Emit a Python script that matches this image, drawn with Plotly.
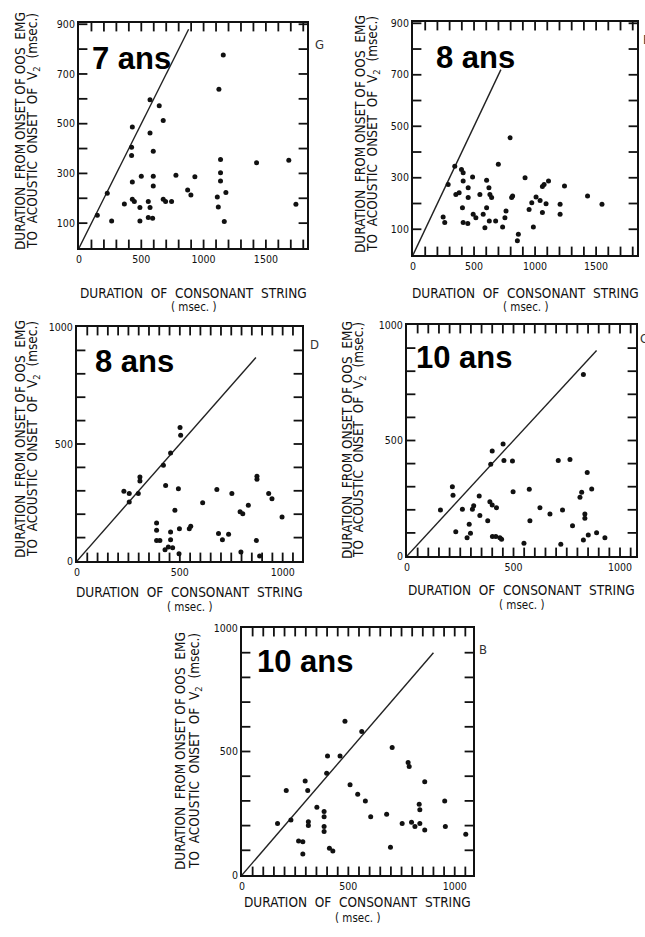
import plotly.graph_objects as go

W, H = 645, 937

# ---------------- data ----------------
p1_x = [147, 227, 262, 364, 428, 422, 422, 428, 428, 444, 500, 489, 489, 570, 570, 556, 570, 556, 591, 596, 596, 596,
        644, 676, 676, 695, 743, 778, 872, 898, 930, 1110, 1118, 1123, 1158, 1136, 1136, 1136, 1166, 1179, 1425, 1684, 1741]
p1_y = [132, 220, 109, 177, 487, 405, 372, 265, 196, 187, 289, 163, 109, 596, 463, 187, 163, 123, 120, 389, 289, 249,
        572, 513, 196, 187, 187, 293, 233, 213, 287, 205, 165, 639, 776, 356, 303, 269, 107, 223, 343, 353, 176]

p2_x = [247, 260, 288, 342, 351, 378, 397, 411, 411, 452, 452, 405, 411, 449, 488, 493, 515, 548, 575, 603, 603, 622,
        630, 644, 589, 625, 677, 699, 734, 753, 762, 795, 808, 816, 855, 863, 918, 951, 973, 986, 1008, 1041, 1060,
        1060, 1074, 1090, 1110, 1205, 1205, 1241, 1430, 1548]
p2_y = [148, 126, 274, 345, 235, 242, 332, 319, 287, 261, 223, 184, 126, 122, 303, 158, 145, 235, 158, 290, 184, 261,
        235, 223, 106, 132, 132, 352, 109, 145, 171, 455, 223, 229, 55, 81, 300, 177, 203, 109, 225, 212, 165,
        266, 274, 199, 287, 197, 158, 268, 229, 197]

p3_x = [228, 254, 254, 298, 306, 306, 387, 387, 387, 403, 420, 431, 428, 444, 455, 455, 455, 465, 476, 493, 496, 501,
        504, 498, 546, 553, 611, 680, 688, 707, 737, 753, 793, 797, 806, 833, 875, 875, 872, 888, 932, 948, 997]
p3_y = [298, 288, 252, 288, 359, 342, 162, 131, 88, 88, 409, 323, 48, 60, 462, 124, 91, 57, 217, 309, 31, 570,
        537, 138, 138, 148, 249, 306, 117, 91, 114, 288, 211, 38, 202, 238, 362, 349, 88, 21, 288, 266, 188]

p4_x = [157, 213, 216, 229, 260, 282, 292, 298, 307, 313, 339, 342, 379, 389, 393, 400, 400, 401, 417, 420, 436, 444,
        451, 455, 495, 498, 549, 574, 577, 624, 671, 710, 722, 730, 765, 777, 812, 820, 828, 828, 835, 835, 846,
        851, 867, 890, 929]
p4_y = [199, 300, 263, 105, 202, 79, 137, 98, 202, 218, 260, 175, 153, 235, 397, 455, 221, 84, 84, 209, 79, 72,
        485, 413, 411, 278, 55, 289, 153, 209, 182, 413, 51, 199, 418, 131, 254, 276, 786, 69, 182, 163, 361,
        91, 290, 101, 79]

p5_x = [167, 208, 230, 266, 286, 286, 297, 309, 312, 312, 352, 386, 386, 386, 386, 402, 398, 411, 427, 461, 484, 508,
        544, 563, 580, 605, 680, 698, 706, 753, 781, 786, 797, 813, 833, 836, 836, 859, 859, 953, 956, 1052]
p5_y = [209, 342, 223, 138, 135, 85, 381, 342, 216, 200, 274, 257, 236, 196, 176, 482, 412, 108, 97, 482, 622, 365,
        327, 581, 300, 236, 246, 112, 516, 209, 455, 439, 214, 196, 286, 264, 209, 182, 378, 300, 196, 165]

diag_end = [880, 720, 870, 890, 900]
age_labels = ["7 ans", "8 ans", "8 ans", "10 ans", "10 ans"]
panel_letters = ["G", "E", "D", "C", "B"]
x_ranges = [[0, 1830], [0, 1835], [0, 1094], [0, 1075], [0, 1086]]
y_ranges = [[0, 905], [0, 905], [0, 1000], [0, 1000], [0, 1000]]

Y_TITLE_1 = "DURATION  FROM ONSET OF OOS  EMG"
Y_TITLE_2 = "TO  ACOUSTIC  ONSET  OF  V<sub>2</sub>  (msec.)"
X_TITLE = "DURATION  OF  CONSONANT  STRING"
X_UNIT = "( msec. )"

# ---------------- layout geometry (pixels) ----------------
frames = [(79, 307, 23, 248), (413, 637, 22, 255), (77, 302, 327, 561), (407, 636, 325, 556), (242, 473, 628, 875)]
label_pos = [(90, 58), (434, 57), (93, 362), (414, 357), (255, 661)]
letter_pos = [(313, 45), (641, 40), (308, 344), (638, 339), (477, 649)]
ytitle_x = [(20, 33), (360, 373), (20, 33), (347, 359), (180, 195)]
ytitle_c = [131, 134, 439, 440, 751]
xtitle_y = [293, 293, 592, 590, 902]
xunit_y = [307, 307, 607, 605, 918]

FONT = "DejaVu Sans Condensed, Liberation Sans Narrow, Arial Narrow, sans-serif"
INK = "#111"

fig = go.Figure()
layout = dict(width=W, height=H, margin=dict(l=0, r=0, t=0, b=0, pad=0, autoexpand=False),
              paper_bgcolor="white", plot_bgcolor="white", showlegend=False,
              font=dict(family=FONT, color=INK, size=10))
annotations = []

datasets = [(p1_x, p1_y), (p2_x, p2_y), (p3_x, p3_y), (p4_x, p4_y), (p5_x, p5_y)]

for i, (xs, ys) in enumerate(datasets):
    n = i + 1
    xa = "x" if n == 1 else f"x{n}"
    ya = "y" if n == 1 else f"y{n}"
    l, r, t, b = frames[i]
    small = i < 2
    xmin, xmax = x_ranges[i]
    ymin, ymax = y_ranges[i]
    layout["xaxis" if n == 1 else f"xaxis{n}"] = dict(
        domain=[l / W, r / W], anchor=ya, range=x_ranges[i],
        showgrid=False, zeroline=False, showline=True, linecolor=INK, linewidth=2, mirror=True,
        ticks="", tick0=0, dtick=500,
        tickfont=dict(size=10.5, family=FONT, color=INK),
    )
    layout["yaxis" if n == 1 else f"yaxis{n}"] = dict(
        domain=[1 - b / H, 1 - t / H], anchor=xa, range=y_ranges[i],
        showgrid=False, zeroline=False, showline=True, linecolor=INK, linewidth=2, mirror=True,
        ticks="", tick0=100 if small else 0, dtick=200 if small else 500,
        tickfont=dict(size=10.5, family=FONT, color=INK),
    )
    # inside tick marks on all four sides (markers on the frame, clipped to the plot area)
    xstep = 100 if small else 50
    xt = list(range(xstep, int(xmax), xstep))
    yt = list(range(100, int(ymax), 100))
    fig.add_trace(go.Scatter(x=xt + xt, y=[ymin] * len(xt) + [ymax] * len(xt), mode="markers",
                             marker=dict(symbol="line-ns-open", size=12, color=INK,
                                         line=dict(color=INK, width=1.8)),
                             xaxis=xa, yaxis=ya, hoverinfo="skip", cliponaxis=True))
    fig.add_trace(go.Scatter(x=[xmin] * len(yt) + [xmax] * len(yt), y=yt + yt, mode="markers",
                             marker=dict(symbol="line-ew-open", size=12, color=INK,
                                         line=dict(color=INK, width=1.8)),
                             xaxis=xa, yaxis=ya, hoverinfo="skip", cliponaxis=True))
    # identity line
    fig.add_trace(go.Scatter(x=[0, diag_end[i]], y=[0, diag_end[i]], mode="lines",
                             line=dict(color="#222", width=1.4), xaxis=xa, yaxis=ya, hoverinfo="skip"))
    # points
    fig.add_trace(go.Scatter(x=xs, y=ys, mode="markers",
                             marker=dict(color=INK, size=5), xaxis=xa, yaxis=ya))
    # age label
    lx, ly = label_pos[i]
    annotations.append(dict(x=lx / W, y=1 - ly / H, xref="paper", yref="paper", xanchor="left", yanchor="middle",
                            text="<b>" + age_labels[i] + "</b>", showarrow=False,
                            font=dict(family="Liberation Sans, Arial, sans-serif", size=31, color="black")))
    # panel letter
    px, py = letter_pos[i]
    annotations.append(dict(x=px / W, y=1 - py / H, xref="paper", yref="paper", xanchor="left", yanchor="middle",
                            text=panel_letters[i], showarrow=False,
                            font=dict(family=FONT, size=13, color="#333")))
    # y title (two lines)
    for txt, xx in zip((Y_TITLE_1, Y_TITLE_2), ytitle_x[i]):
        annotations.append(dict(x=xx / W, y=1 - ytitle_c[i] / H, xref="paper", yref="paper",
                                xanchor="center", yanchor="middle", textangle=-90,
                                text=txt, showarrow=False,
                                font=dict(family=FONT, size=13.5, color=INK)))
    # x title
    annotations.append(dict(x=((l + r) / 2) / W, y=1 - xtitle_y[i] / H, xref="paper", yref="paper",
                            xanchor="center", yanchor="middle", text=X_TITLE, showarrow=False,
                            font=dict(family=FONT, size=13.5, color=INK)))
    annotations.append(dict(x=((l + r) / 2) / W, y=1 - xunit_y[i] / H, xref="paper", yref="paper",
                            xanchor="center", yanchor="middle", text=X_UNIT, showarrow=False,
                            font=dict(family=FONT, size=11.5, color=INK)))

layout["annotations"] = annotations
fig.update_layout(**layout)
fig.write_html("out.html", config={"displayModeBar": False},
               post_script="document.body.style.margin='0px';document.body.style.padding='0px';")
